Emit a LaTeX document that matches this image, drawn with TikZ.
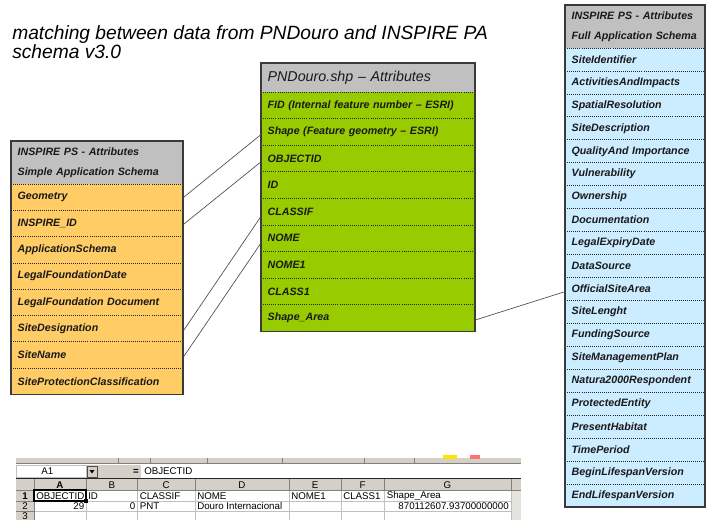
\documentclass[tikz,border=0pt]{standalone}
\usepackage{fontspec}
\setmainfont{Liberation Sans}
\usetikzlibrary{calc}

\definecolor{hdrgray}{HTML}{C0C0C0}
\definecolor{psorange}{HTML}{FFCC66}
\definecolor{shpgreen}{HTML}{99CC00}
\definecolor{fullblue}{HTML}{CCECFF}
\definecolor{boxline}{HTML}{3A3A3A}
\definecolor{xlgray}{HTML}{D4D0C8}
\definecolor{xlgrid}{HTML}{C0C0C0}
\definecolor{xldark}{HTML}{808080}

\begin{document}
\begin{tikzpicture}[x=0.75pt,y=-0.75pt,
  attr/.style={rectangle, anchor=north west, inner xsep=5pt, inner ysep=0pt,
    outer sep=0pt, align=left, text=black!90,
    font=\fontsize{8}{9.6}\selectfont\bfseries\itshape},
  hdr/.style={attr, fill=hdrgray, font=\fontsize{8}{15}\selectfont\bfseries\itshape},
  rowL/.style={attr, fill=psorange, text width=119pt, minimum height=19.725pt},
  rowM/.style={attr, fill=shpgreen, text width=150.5pt, minimum height=19.95pt},
  rowR/.style={attr, fill=fullblue, text width=95pt, minimum height=17.21pt},
  sepline/.style={black!85, line width=0.55pt, densely dotted},
  frame/.style={draw=boxline, line width=1.1pt},
  link/.style={draw=black!70, line width=0.5pt},
  titletext/.style={anchor=base west, inner sep=0pt,
    font=\fontsize{14.4}{16}\selectfont\itshape},
  xltext/.style={inner sep=0pt, font=\fontsize{7.3}{8}\selectfont},
]
\useasboundingbox (0,0) rectangle (707,520);

% ---------- title ----------
\node[titletext] (title1) at (12,40) {matching between data from PNDouro and INSPIRE PA};
\node[titletext] (title2) at (12,58.5) {schema v3.0};

% ---------- simple application schema ----------
\node[hdr, text width=119pt, minimum height=32.25pt] (LH) at (11,141)
  {INSPIRE PS - Attributes\\Simple Application Schema};
\foreach \t [count=\i] in {Geometry, INSPIRE\_ID, ApplicationSchema,
  LegalFoundationDate, LegalFoundation Document, SiteDesignation, SiteName,
  SiteProtectionClassification}
  \node[rowL] (L\i) at (11,{184+26.3*(\i-1)}) {\t};
\foreach \i in {1,...,8}
  \draw[sepline] (L\i.north west) -- (L\i.north east);
\draw[frame] (LH.north west) rectangle (L8.south east);

% ---------- PNDouro shapefile ----------
\node[attr, fill=hdrgray, text width=150.5pt, minimum height=21.75pt,
  font=\fontsize{10.7}{12}\selectfont\itshape] (MH) at (261,63)
  {PNDouro.shp – Attributes};
\foreach \t [count=\i] in {FID (Internal feature number – ESRI),
  Shape (Feature geometry – ESRI), OBJECTID, ID, CLASSIF, NOME, NOME1,
  CLASS1, Shape\_Area}
  \node[rowM] (M\i) at (261,{92+26.6*(\i-1)}) {\t};
\foreach \i in {1,...,9}
  \draw[sepline] (M\i.north west) -- (M\i.north east);
\draw[frame] (MH.north west) rectangle (M9.south east);

% ---------- full application schema ----------
\node[hdr, text width=95pt, minimum height=32.25pt] (RH) at (565,5)
  {INSPIRE PS - Attributes\\Full Application Schema};
\foreach \t [count=\i] in {SiteIdentifier, ActivitiesAndImpacts,
  SpatialResolution, SiteDescription, QualityAnd Importance, Vulnerability,
  Ownership, Documentation, LegalExpiryDate, DataSource, OfficialSiteArea,
  SiteLenght, FundingSource, SiteManagementPlan, Natura2000Respondent,
  ProtectedEntity, PresentHabitat, TimePeriod, BeginLifespanVersion,
  EndLifespanVersion}
  \node[rowR] (R\i) at (565,{48+22.95*(\i-1)}) {\t};
\fill[hdrgray] (RH.south west) rectangle (R1.north east);
\foreach \i in {1,...,20}
  \draw[sepline] (R\i.north west) -- (R\i.north east);
\draw[frame] (RH.north west) rectangle (R20.south east);

% ---------- attribute links ----------
\draw[link] ([yshift=-0.5pt]L1.east) -- ([yshift=-2pt]M2.west);
\draw[link] ([yshift=-1pt]L2.east) -- ([yshift=-2.5pt]M3.west);
\draw[link] ([yshift=-2pt]L6.east) -- ([yshift=-3.5pt]M5.west);
\draw[link] ([yshift=-2pt]L7.east) -- ([yshift=-3.5pt]M6.west);
\draw[link] ([yshift=-1.5pt]M9.east) -- ([yshift=-2pt]R11.west);

% ---------- spreadsheet view ----------
\begin{scope}
\clip (0,452) rectangle (707,520);
% toolbar strip
\fill[xlgray] (16,458) rectangle (521,464);
\draw[xldark, line width=0.4pt] (16,463.6) -- (521,463.6);
\foreach \x in {118,150,207,282,364,414}
  \draw[xldark, line width=0.4pt] (\x,458) -- (\x,463.6);
\fill[yellow!85!orange] (443,455) rectangle (457,459);
\fill[red!55] (470,455) rectangle (480,459);
% formula bar
\fill[white] (16,464.5) rectangle (521,478);
\fill[xlgray] (86,464.5) rectangle (141,478);
\draw[xlgrid, line width=0.4pt] (16,465) rectangle (86,477.5);
\fill[xlgray] (87,466) rectangle (97,477);
\draw[black!70, line width=0.4pt] (87,466) rectangle (97,477);
\fill[black] (89.5,470) -- (94.5,470) -- (92,473.5) -- cycle;
\node[xltext, anchor=west] at (41,471.5) {A1};
\node[xltext, font=\fontsize{7.3}{8}\selectfont\bfseries] at (136,471.5) {=};
\node[xltext, anchor=west] at (144,471.5) {OBJECTID};
\draw[black!85, line width=0.9pt] (16,478.6) -- (521,478.6);
% header row and row header column
\fill[xlgray] (16,479) rectangle (521,490);
\fill[xlgray] (16,490) rectangle (34,521);
\fill[white] (34,490) rectangle (511,521);
\fill[xlgray!60] (511,490) rectangle (521,521);
% grid
\foreach \y in {501,511}
  \draw[xlgrid, line width=0.4pt] (34,\y) -- (511,\y);
\foreach \x in {86,137.5,195,289,341,384,511}
  \draw[xlgrid, line width=0.4pt] (\x,490) -- (\x,521);
\foreach \x in {34,86,137.5,195,289,341,384,511}
  \draw[xldark, line width=0.4pt] (\x,479) -- (\x,490);
\draw[xldark, line width=0.4pt] (16,490) -- (521,490);
\foreach \y in {501,511}
  \draw[xldark, line width=0.4pt] (16,\y) -- (34,\y);
\draw[xldark, line width=0.4pt] (34,490) -- (34,521);
% column letters
\foreach \c/\x in {B/111.75,C/166.25,D/242,E/315,F/362.5,G/447.5}
  \node[xltext] at (\x,484.7) {\c};
\node[xltext, font=\fontsize{7.3}{8}\selectfont\bfseries] at (60,484.7) {A};
\node[xltext, font=\fontsize{7.3}{8}\selectfont\bfseries] at (25,495.7) {1};
\node[xltext] at (25,506.2) {2};
\node[xltext] at (25,516.5) {3};
% cell contents
\foreach \t/\x in {ID/88,CLASSIF/139.5,NOME/197,NOME1/291,CLASS1/343,Shape\_Area/386.5}
  \node[xltext, anchor=west] at (\x,495.7) {\t};
\node[xltext, anchor=west] at (36,495.7) {OBJECTID};
\node[xltext, anchor=east] at (84.5,506.2) {29};
\node[xltext, anchor=east] at (135.5,506.2) {0};
\node[xltext, anchor=west] at (139.5,506.2) {PNT};
\node[xltext, anchor=west] at (197,506.2) {Douro Internacional};
\node[xltext, anchor=east] at (509,506.2) {870112607.93700000000};
% active cell
\draw[black, line width=1.3pt] (34,490) rectangle (86,501);
\fill[black] (84.3,499.3) rectangle (88.2,503.2);
\end{scope}
\end{tikzpicture}
\end{document}
